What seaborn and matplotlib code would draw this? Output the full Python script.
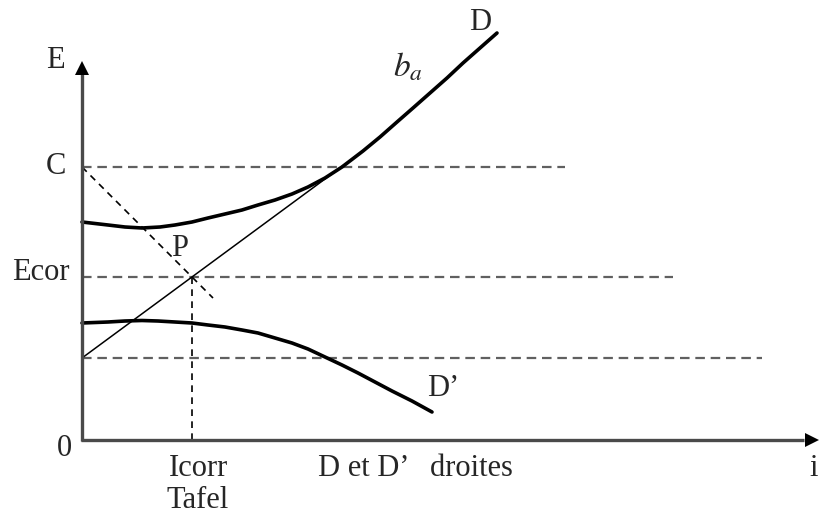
import matplotlib
matplotlib.use("Agg")
import matplotlib.pyplot as plt
import seaborn as sns
import pandas as pd

# Polarisation curves (current i, potential E) in arbitrary units
anodic_i = [0.00, 0.26, 0.43, 0.60, 0.78, 0.93, 1.10, 1.26, 1.43, 1.60, 1.76, 1.93,
            2.10, 2.26, 2.43, 2.60, 2.81, 2.98, 3.15, 3.31, 3.48, 3.65, 3.81, 3.98, 4.15]
anodic_E = [2.18, 2.15, 2.13, 2.12, 2.13, 2.15, 2.18, 2.22, 2.26, 2.30, 2.35, 2.40,
            2.46, 2.53, 2.62, 2.73, 2.89, 3.03, 3.18, 3.32, 3.47, 3.62, 3.77, 3.92, 4.07]

cathodic_i = [0.00, 0.26, 0.43, 0.60, 0.76, 0.93, 1.10, 1.26, 1.43, 1.60, 1.76,
              1.93, 2.10, 2.26, 2.43, 2.60, 2.76, 2.93, 3.10, 3.30, 3.50]
cathodic_E = [1.17, 1.18, 1.19, 1.195, 1.19, 1.18, 1.17, 1.15, 1.13, 1.10, 1.07,
              1.02, 0.97, 0.91, 0.83, 0.75, 0.67, 0.58, 0.49, 0.39, 0.28]

# Tafel line through P
tafel_i = [0.00, 2.62]
tafel_E = [0.82, 2.75]

# Reference levels
E_C = 2.73
E_cor = 1.63
E_low = 0.82
I_corr = 1.10
diag_i = [0.00, 1.31]
diag_E = [2.73, 1.42]

sns.set_style("white")
plt.rcParams["font.family"] = ["Liberation Serif", "DejaVu Serif"]
plt.rcParams["mathtext.fontset"] = "stix"

fig = plt.figure(figsize=(8.19, 5.15), dpi=100)
ax = fig.add_axes([0, 0, 1, 1])
ax.set_xlim(-0.82, 7.37)
ax.set_ylim(-0.75, 4.40)

dash_col = "#606060"
# horizontal dashed levels
for level, right in [(E_C, 4.83), (E_cor, 5.91), (E_low, 6.80)]:
    ax.plot([0, right], [level, level], color=dash_col, lw=1.6, dashes=(4.3, 2.6))
# vertical Icorr and diagonal through P
ax.plot([I_corr, I_corr], [0, E_cor], color="black", lw=1.2, dashes=(4.0, 3.2))
ax.plot(diag_i, diag_E, color="black", lw=1.2, dashes=(4.0, 3.2))

# curves
df_a = pd.DataFrame({"i": anodic_i, "E": anodic_E})
df_c = pd.DataFrame({"i": cathodic_i, "E": cathodic_E})
df_t = pd.DataFrame({"i": tafel_i, "E": tafel_E})
sns.lineplot(data=df_a, x="i", y="E", sort=False, color="black", lw=2.6, ax=ax,
             solid_joinstyle="round")
sns.lineplot(data=df_c, x="i", y="E", sort=False, color="black", lw=2.6, ax=ax,
             solid_joinstyle="round")
sns.lineplot(data=df_t, x="i", y="E", sort=False, color="black", lw=1.1, ax=ax)
ax.axis("off")

# axes with arrow heads
axis_col = "#4a4a4a"
ax.plot([0, 0], [-0.012, 3.68], color=axis_col, lw=2.4, solid_capstyle="butt")
ax.plot([-0.012, 7.22], [0, 0], color=axis_col, lw=2.4, solid_capstyle="butt")
ax.plot([0], [3.725], marker="^", ms=10.5, color="black", mew=0)
ax.plot([7.30], [0], marker=">", ms=10.5, color="black", mew=0)

fs = 22
ax.text(-0.27, 3.79, "E", fontsize=fs, ha="center", va="center")
ax.text(-0.26, 2.73, "C", fontsize=fs, ha="center", va="center")
ax.text(-0.12, 1.68, "Ecor", fontsize=fs, ha="right", va="center")
ax.text(-0.18, -0.08, "0", fontsize=fs, ha="center", va="center")
ax.text(0.98, 1.91, "P", fontsize=fs, ha="center", va="center")
ax.text(1.16, -0.28, "Icorr", fontsize=fs, ha="center", va="center")
ax.text(1.16, -0.60, "Tafel", fontsize=fs, ha="center", va="center")
ax.text(2.36, -0.28, "D et D\u2019   droites", fontsize=fs, ha="left", va="center")
ax.text(7.32, -0.28, "i", fontsize=fs, ha="center", va="center")
ax.text(3.61, 0.52, "D\u2019", fontsize=fs, ha="center", va="center")
ax.text(3.98, 4.17, "D", fontsize=fs, ha="center", va="center")
ax.text(3.26, 3.73, r"$b_a$", fontsize=fs + 2, ha="center", va="center")

fig.savefig("out.png", dpi=100)
